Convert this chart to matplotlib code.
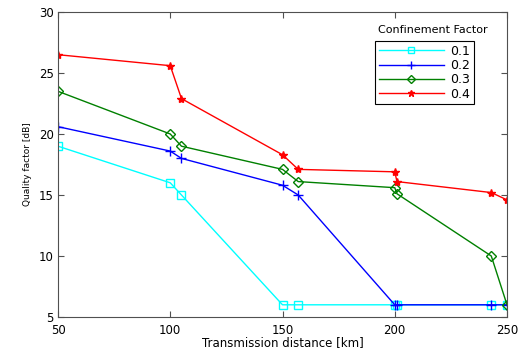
from matplotlib import pyplot as plt
import numpy as np

# distances (km) for each curve
dist = [50, 100, 105, 150, 157, 200, 201, 243, 250]

q_01 = [19.0, 16.0, 15.0, 6.0, 6.0, 6.0, 6.0, 6.0, 6.0]
q_02 = [20.6, 18.6, 18.0, 15.8, 15.0, 6.0, 6.0, 6.0, 6.0]
q_03 = [23.5, 20.0, 19.0, 17.1, 16.1, 15.6, 15.1, 10.0, 6.0]
q_04 = [26.5, 25.6, 22.9, 18.3, 17.1, 16.9, 16.1, 15.2, 14.6]

labels = ["0.1", "0.2", "0.3", "0.4"]

fig = plt.figure(figsize=(5.18, 3.49), dpi=100)
ax = fig.add_axes([58 / 518, 1 - 317 / 349, 449 / 518, 305 / 349])

ax.plot(dist, q_01, color="cyan", marker="s", markerfacecolor="none", markersize=6, lw=1, label=labels[0])
ax.plot(dist, q_02, color="blue", marker="+", markersize=7, lw=1, label=labels[1])
ax.plot(dist, q_03, color="green", marker="D", markerfacecolor="none", markersize=5, lw=1, label=labels[2])
ax.plot(dist, q_04, color="red", marker="*", markersize=6, lw=1, label=labels[3])

ax.set_xlim(50, 250)
ax.set_ylim(5, 30)
ax.set_xticks([50, 100, 150, 200, 250])
ax.set_yticks([5, 10, 15, 20, 25, 30])
for s in ax.spines.values():
    s.set_color("#505050")
ax.tick_params(direction="in", top=True, right=True, labelsize=8.5, length=4, color="#505050")
ax.tick_params(axis="x", pad=5)
ax.tick_params(axis="y", pad=3)
ax.set_xlabel("Transmission distance [km]", fontsize=8.5, labelpad=-1)
ax.set_ylabel("Quality factor [dB]", fontsize=6.5, labelpad=5)

leg = ax.legend(loc="upper left", bbox_to_anchor=(375 / 518, 1 - 41 / 349), bbox_transform=fig.transFigure,
                fontsize=9, fancybox=False, edgecolor="black", framealpha=1, handlelength=5.2,
                borderpad=0.3, labelspacing=0.1, handletextpad=0.5, borderaxespad=0, markerscale=0.8)
leg.get_frame().set_linewidth(0.8)
fig.text(433 / 518, 1 - 30 / 349, "Confinement Factor", fontsize=8, ha="center", va="center")

plt.savefig("out.png")
